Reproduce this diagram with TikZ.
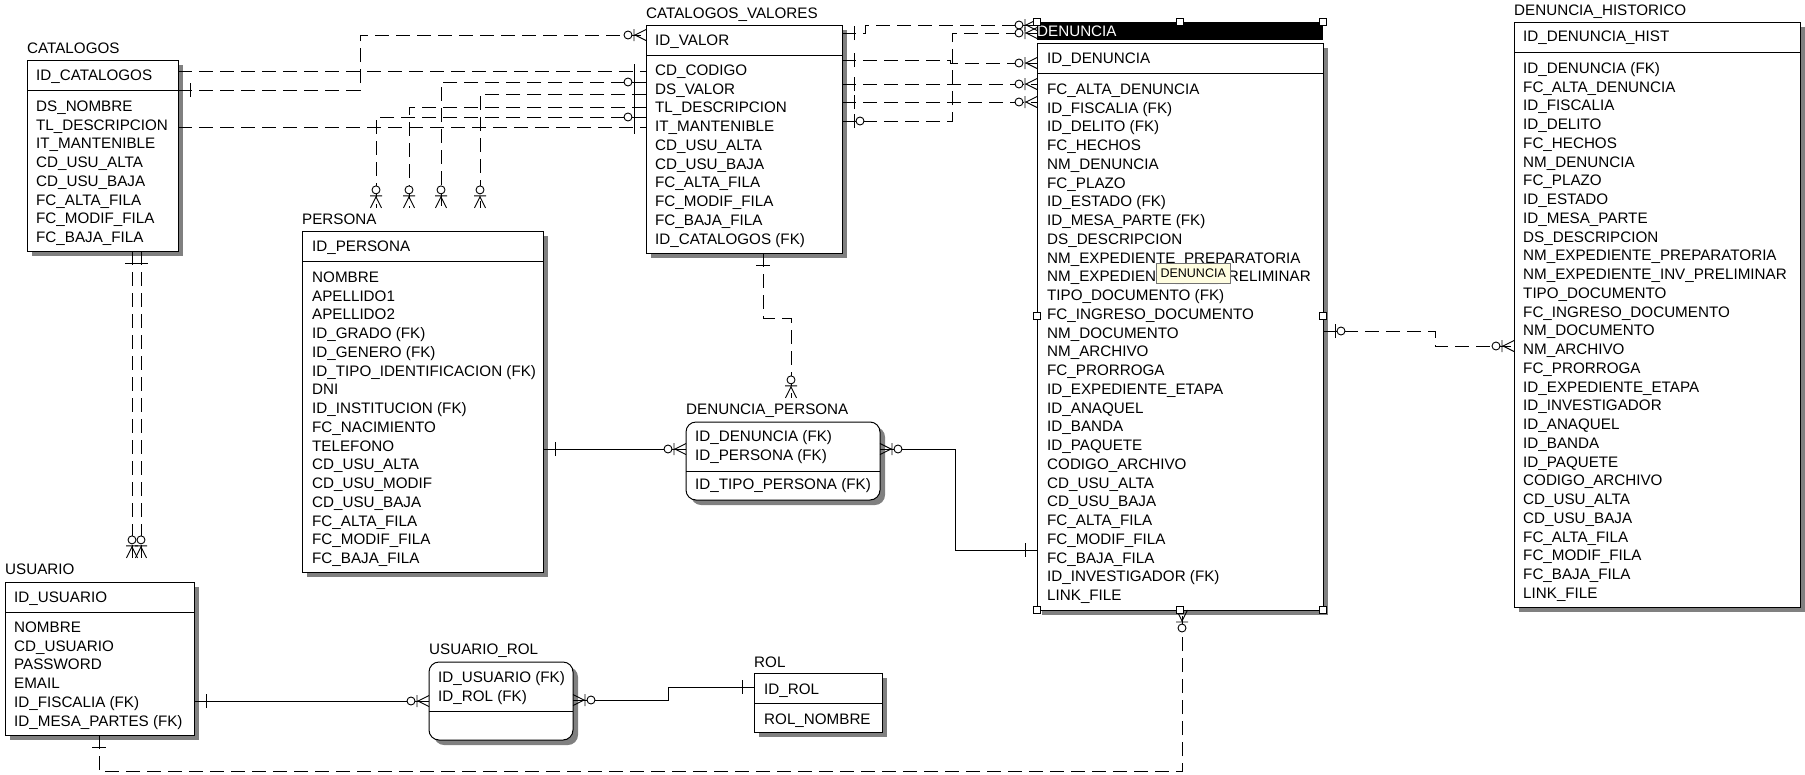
\documentclass[tikz,border=0pt]{standalone}
\usepackage{fontspec}
\setmainfont{Liberation Sans}
\usetikzlibrary{shadows}

\newcommand{\rowfont}{\fontsize{15.2}{18.75}\selectfont}

\tikzset{
  entity/.style={draw, line width=1pt, fill=white, anchor=north west, inner sep=0pt, outer sep=0pt,
    drop shadow={shadow xshift=5pt, shadow yshift=-5pt, fill=black!50, opacity=1}},
  weak/.style={entity, rounded corners=10pt},
  keyline/.style={line width=1pt},
  title/.style={anchor=base west, inner xsep=0pt, inner ysep=5.5pt, yshift=-5.2pt, font=\rowfont},
  rows/.style={anchor=north west, inner sep=0pt, yshift=7.9pt, font=\rowfont},
  rel/.style={line width=0.9pt, dash pattern=on 14pt off 7pt},
  idrel/.style={line width=0.9pt},
  one/.pic={\draw[line width=0.9pt] (12,-7) -- (12,7);},
  zone/.pic={\draw[line width=0.9pt] (12,-7) -- (12,7);
    \draw[line width=0.9pt, fill=white] (18,0) circle (4pt);},
  many/.pic={\draw[line width=0.9pt] (0,5.5) -- (11,0) -- (0,-5.5) (12,-6) -- (12,6);
    \draw[line width=0.9pt, fill=white] (18,0) circle (4pt);},
  handle/.style={draw, fill=white, line width=0.8pt, minimum size=7pt, inner sep=0pt},
}

\begin{document}
\begin{tikzpicture}[x=1pt, y=1pt]
\useasboundingbox (0,0) rectangle (1805,-774);

% CATALOGOS
\node (catalogos-title) [title] at (27,-48) {CATALOGOS};
\node (catalogos) [entity, minimum width=151pt, minimum height=191pt] at (27,-60) {};
\draw[keyline] (catalogos.west |- 0,-90) -- (catalogos.east |- 0,-90);
\node (catalogos-key) [rows] at (36,-75) {\begin{tabular}{@{}l@{}}ID\_CATALOGOS\end{tabular}};
\node (catalogos-attr) [rows] at (36,-106) {\begin{tabular}{@{}l@{}}
  DS\_NOMBRE \\ TL\_DESCRIPCION \\ IT\_MANTENIBLE \\ CD\_USU\_ALTA \\
  CD\_USU\_BAJA \\ FC\_ALTA\_FILA \\ FC\_MODIF\_FILA \\ FC\_BAJA\_FILA
\end{tabular}};

% CATALOGOS_VALORES
\node (valores-title) [title] at (646,-13) {CATALOGOS\_VALORES};
\node (valores) [entity, minimum width=196pt, minimum height=228pt] at (646,-25) {};
\draw[keyline] (valores.west |- 0,-55) -- (valores.east |- 0,-55);
\node (valores-key) [rows] at (655,-40) {\begin{tabular}{@{}l@{}}ID\_VALOR\end{tabular}};
\node (valores-attr) [rows] at (655,-70) {\begin{tabular}{@{}l@{}}
  CD\_CODIGO \\ DS\_VALOR \\ TL\_DESCRIPCION \\ IT\_MANTENIBLE \\ CD\_USU\_ALTA \\
  CD\_USU\_BAJA \\ FC\_ALTA\_FILA \\ FC\_MODIF\_FILA \\ FC\_BAJA\_FILA \\ ID\_CATALOGOS (FK)
\end{tabular}};

% PERSONA
\node (persona-title) [title] at (302,-219) {PERSONA};
\node (persona) [entity, minimum width=241pt, minimum height=341pt] at (302,-231) {};
\draw[keyline] (persona.west |- 0,-261) -- (persona.east |- 0,-261);
\node (persona-key) [rows] at (312,-246) {\begin{tabular}{@{}l@{}}ID\_PERSONA\end{tabular}};
\node (persona-attr) [rows] at (312,-277) {\begin{tabular}{@{}l@{}}
  NOMBRE \\ APELLIDO1 \\ APELLIDO2 \\ ID\_GRADO (FK) \\ ID\_GENERO (FK) \\
  ID\_TIPO\_IDENTIFICACION (FK) \\ DNI \\ ID\_INSTITUCION (FK) \\ FC\_NACIMIENTO \\
  TELEFONO \\ CD\_USU\_ALTA \\ CD\_USU\_MODIF \\ CD\_USU\_BAJA \\ FC\_ALTA\_FILA \\
  FC\_MODIF\_FILA \\ FC\_BAJA\_FILA
\end{tabular}};

% DENUNCIA
\node (denuncia-title) [fill=black, text=white, font=\rowfont, anchor=north west, inner sep=0pt,
  minimum width=286pt, minimum height=18pt, text width=286pt, align=left] at (1037,-22) {DENUNCIA};
\node (denuncia) [entity, minimum width=286pt, minimum height=567pt] at (1037,-43) {};
\draw[keyline] (denuncia.west |- 0,-73) -- (denuncia.east |- 0,-73);
\node (denuncia-key) [rows] at (1047,-58) {\begin{tabular}{@{}l@{}}ID\_DENUNCIA\end{tabular}};
\node (denuncia-attr) [rows] at (1047,-89) {\begin{tabular}{@{}l@{}}
  FC\_ALTA\_DENUNCIA \\ ID\_FISCALIA (FK) \\ ID\_DELITO (FK) \\ FC\_HECHOS \\ NM\_DENUNCIA \\
  FC\_PLAZO \\ ID\_ESTADO (FK) \\ ID\_MESA\_PARTE (FK) \\ DS\_DESCRIPCION \\
  NM\_EXPEDIENTE\_PREPARATORIA \\ NM\_EXPEDIENTE\_INV\_PRELIMINAR \\ TIPO\_DOCUMENTO (FK) \\
  FC\_INGRESO\_DOCUMENTO \\ NM\_DOCUMENTO \\ NM\_ARCHIVO \\ FC\_PRORROGA \\
  ID\_EXPEDIENTE\_ETAPA \\ ID\_ANAQUEL \\ ID\_BANDA \\ ID\_PAQUETE \\ CODIGO\_ARCHIVO \\
  CD\_USU\_ALTA \\ CD\_USU\_BAJA \\ FC\_ALTA\_FILA \\ FC\_MODIF\_FILA \\ FC\_BAJA\_FILA \\
  ID\_INVESTIGADOR (FK) \\ LINK\_FILE
\end{tabular}};

% DENUNCIA_HISTORICO
\node (historico-title) [title] at (1514,-10) {DENUNCIA\_HISTORICO};
\node (historico) [entity, minimum width=286pt, minimum height=585pt] at (1514,-22) {};
\draw[keyline] (historico.west |- 0,-52) -- (historico.east |- 0,-52);
\node (historico-key) [rows] at (1523,-36) {\begin{tabular}{@{}l@{}}ID\_DENUNCIA\_HIST\end{tabular}};
\node (historico-attr) [rows] at (1523,-68) {\begin{tabular}{@{}l@{}}
  ID\_DENUNCIA (FK) \\ FC\_ALTA\_DENUNCIA \\ ID\_FISCALIA \\ ID\_DELITO \\ FC\_HECHOS \\
  NM\_DENUNCIA \\ FC\_PLAZO \\ ID\_ESTADO \\ ID\_MESA\_PARTE \\ DS\_DESCRIPCION \\
  NM\_EXPEDIENTE\_PREPARATORIA \\ NM\_EXPEDIENTE\_INV\_PRELIMINAR \\ TIPO\_DOCUMENTO \\
  FC\_INGRESO\_DOCUMENTO \\ NM\_DOCUMENTO \\ NM\_ARCHIVO \\ FC\_PRORROGA \\
  ID\_EXPEDIENTE\_ETAPA \\ ID\_INVESTIGADOR \\ ID\_ANAQUEL \\ ID\_BANDA \\ ID\_PAQUETE \\
  CODIGO\_ARCHIVO \\ CD\_USU\_ALTA \\ CD\_USU\_BAJA \\ FC\_ALTA\_FILA \\ FC\_MODIF\_FILA \\
  FC\_BAJA\_FILA \\ LINK\_FILE
\end{tabular}};

% DENUNCIA_PERSONA
\node (denpersona-title) [title] at (686,-409) {DENUNCIA\_PERSONA};
\node (denpersona) [weak, minimum width=194pt, minimum height=78pt] at (686,-422) {};
\draw[keyline] (denpersona.west |- 0,-471) -- (denpersona.east |- 0,-471);
\node (denpersona-key) [rows] at (695,-436) {\begin{tabular}{@{}l@{}}ID\_DENUNCIA (FK) \\ ID\_PERSONA (FK)\end{tabular}};
\node (denpersona-attr) [rows] at (695,-484) {\begin{tabular}{@{}l@{}}ID\_TIPO\_PERSONA (FK)\end{tabular}};

% USUARIO
\node (usuario-title) [title] at (5,-569) {USUARIO};
\node (usuario) [entity, minimum width=189pt, minimum height=153pt] at (5,-582) {};
\draw[keyline] (usuario.west |- 0,-612) -- (usuario.east |- 0,-612);
\node (usuario-key) [rows] at (14,-597) {\begin{tabular}{@{}l@{}}ID\_USUARIO\end{tabular}};
\node (usuario-attr) [rows] at (14,-627) {\begin{tabular}{@{}l@{}}
  NOMBRE \\ CD\_USUARIO \\ PASSWORD \\ EMAIL \\ ID\_FISCALIA (FK) \\ ID\_MESA\_PARTES (FK)
\end{tabular}};

% USUARIO_ROL
\node (usrol-title) [title] at (429,-649) {USUARIO\_ROL};
\node (usrol) [weak, minimum width=144pt, minimum height=78pt] at (429,-662) {};
\draw[keyline] (usrol.west |- 0,-711) -- (usrol.east |- 0,-711);
\node (usrol-key) [rows] at (438,-677) {\begin{tabular}{@{}l@{}}ID\_USUARIO (FK) \\ ID\_ROL (FK)\end{tabular}};

% ROL
\node (rol-title) [title] at (754,-662) {ROL};
\node (rol) [entity, minimum width=128pt, minimum height=59pt] at (754,-673) {};
\draw[keyline] (rol.west |- 0,-703) -- (rol.east |- 0,-703);
\node (rol-key) [rows] at (764,-689) {\begin{tabular}{@{}l@{}}ID\_ROL\end{tabular}};
\node (rol-attr) [rows] at (764,-719) {\begin{tabular}{@{}l@{}}ROL\_NOMBRE\end{tabular}};

% relationships
\draw[rel] (catalogos.east |- 0,-90) -| (360,-35) -- (valores.west |- 0,-35);
\draw[rel] (catalogos.east |- 0,-71) -- (valores.west |- 0,-71);
\draw[rel] (catalogos.east |- 0,-127) -- (valores.west |- 0,-127);
\pic at (catalogos.east |- 0,-90) {one};
\pic[rotate=180] at (valores.west |- 0,-35) {many};
\pic[rotate=180] at (valores.west |- 0,-71) {one};
\pic[rotate=180] at (valores.west |- 0,-127) {one};

\draw[rel] (valores.west |- 0,-117) -| (persona-title.north -| 376,0);
\draw[rel] (valores.west |- 0,-107) -| (persona-title.north -| 409,0);
\draw[rel] (valores.west |- 0,-82) -| (persona-title.north -| 441,0);
\draw[rel] (valores.west |- 0,-94) -| (persona-title.north -| 480,0);
\pic[rotate=180] at (valores.west |- 0,-117) {zone};
\pic[rotate=180] at (valores.west |- 0,-107) {one};
\pic[rotate=180] at (valores.west |- 0,-82) {zone};
\pic[rotate=180] at (valores.west |- 0,-94) {one};
\foreach \px in {376,409,441,480}
  \pic[rotate=90] at (persona-title.north -| \px,0) {many};

\draw[rel] (valores.east |- 0,-33) -- (865,-33) |- (denuncia.west |- 0,-25);
\draw[rel] (valores.east |- 0,-60) -- (950,-60) |- (denuncia.west |- 0,-63);
\draw[rel] (valores.east |- 0,-84) -- (denuncia.west |- 0,-84);
\draw[rel] (valores.east |- 0,-102) -- (denuncia.west |- 0,-102);
\draw[rel] (valores.east |- 0,-121) -| (952,-33) -- (denuncia.west |- 0,-33);
\foreach \py in {33,60,84,102}
  \pic at (valores.east |- 0,-\py) {one};
\pic at (valores.east |- 0,-121) {zone};
\foreach \py in {25,33,63,84,102}
  \pic[rotate=180] at (denuncia.west |- 0,-\py) {many};

\draw[rel] (valores.south -| 763,0) -- (763,-318) -| (denpersona-title.north -| 791,0);
\pic[rotate=-90] at (valores.south -| 763,0) {one};
\pic[rotate=90] at (denpersona-title.north -| 791,0) {many};

\draw[idrel] (persona.east |- 0,-449) -- (denpersona.west |- 0,-449);
\pic at (persona.east |- 0,-449) {one};
\pic[rotate=180] at (denpersona.west |- 0,-449) {many};

\draw[idrel] (denpersona.east |- 0,-449) -| (955,-550) -- (denuncia.west |- 0,-550);
\pic at (denpersona.east |- 0,-449) {many};
\pic[rotate=180] at (denuncia.west |- 0,-550) {one};

\draw[rel] (denuncia.east |- 0,-331) -- (1435,-331) |- (historico.west |- 0,-346);
\pic at (denuncia.east |- 0,-331) {zone};
\pic[rotate=180] at (historico.west |- 0,-346) {many};

\foreach \px in {132,141} {
  \draw[rel] (catalogos.south -| \px,0) -- (usuario-title.north -| \px,0);
  \pic[rotate=-90] at (catalogos.south -| \px,0) {one};
  \pic[rotate=90] at (usuario-title.north -| \px,0) {many};
}

\draw[idrel] (usuario.east |- 0,-701) -- (usrol.west |- 0,-701);
\pic at (usuario.east |- 0,-701) {one};
\pic[rotate=180] at (usrol.west |- 0,-701) {many};

\draw[idrel] (usrol.east |- 0,-700) -| (668,-687) -- (rol.west |- 0,-687);
\pic at (usrol.east |- 0,-700) {many};
\pic[rotate=180] at (rol.west |- 0,-687) {one};

\draw[rel] (usuario.south -| 99,0) |- (1182,-771) -- (denuncia.south -| 1182,0);
\pic[rotate=-90] at (usuario.south -| 99,0) {one};
\pic[rotate=-90] at (denuncia.south -| 1182,0) {many};

% selection handles and tooltip
\foreach \p [count=\i] in {(1037,-22),(1180,-22),(1323,-22),(1037,-316),(1323,-316),(1037,-610),(1180,-610),(1323,-610)}
  \node (handle\i) [handle] at \p {};
\node (tooltip) [draw=black!55, fill=yellow!12, inner sep=0pt, minimum width=74pt, minimum height=20pt,
  anchor=north west, font=\fontsize{12.5}{14}\selectfont] at (1156,-263) {DENUNCIA};
\end{tikzpicture}
\end{document}
